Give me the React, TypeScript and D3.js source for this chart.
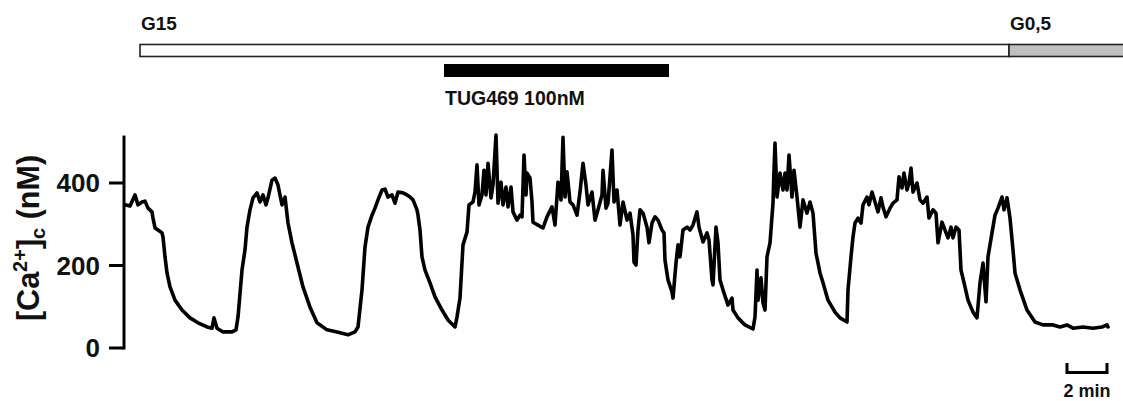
import React from "react";
import * as d3 from "d3";

// Recording time (s) and cytosolic Ca2+ (nM)
const traceTime = [
  0, 15, 30, 39, 51, 60, 69, 81, 84, 90, 99, 111, 114, 120, 126, 135, 150, 171, 195, 219,
  246, 261, 267, 276, 294, 321, 333, 339, 351, 360, 366, 375, 384, 396, 405, 414, 423, 429, 441, 450,
  459, 471, 480, 489, 501, 516, 534, 555, 576, 606, 636, 669, 690, 699,
  711, 720, 729, 741, 750, 759, 771, 780, 789, 801,
  810, 819, 834, 846, 855, 864, 876, 879, 885, 891,
  900, 915, 930, 951, 969, 990, 996, 1005, 1014, 1026,
  1032, 1044, 1050, 1056, 1062, 1071, 1077, 1083, 1089, 1098,
  1104, 1113, 1119, 1128, 1134, 1143, 1149, 1158, 1164, 1176,
  1185, 1191, 1197, 1203, 1206, 1215, 1221, 1224, 1239, 1254,
  1266, 1281, 1290, 1299, 1308, 1314, 1320, 1326, 1335, 1344,
  1356, 1365, 1374, 1383, 1389, 1401, 1410, 1419, 1431, 1434,
  1443, 1449, 1461, 1467, 1476, 1485, 1494, 1506, 1515, 1524,
  1527, 1533, 1539, 1545, 1554, 1566, 1572, 1581, 1590, 1599,
  1611, 1617, 1620, 1629, 1641, 1644, 1653, 1659, 1665, 1674,
  1686, 1695, 1704, 1716, 1722, 1734, 1746, 1752, 1761, 1764,
  1773, 1779, 1785, 1794, 1809, 1821, 1824, 1839, 1860, 1884,
  1890, 1896, 1899, 1908, 1914, 1920, 1926, 1935, 1944, 1946,
  1950, 1956, 1965, 1974, 1980, 1986, 1992, 2001, 2007, 2016,
  2025, 2034, 2046, 2055, 2064, 2073, 2085, 2094, 2109, 2130,
  2145, 2166, 2169, 2178, 2184, 2190, 2199, 2208, 2214, 2226,
  2232, 2241, 2250, 2259, 2268, 2274, 2283, 2295, 2304, 2316,
  2322, 2331, 2337, 2346, 2352, 2358, 2364, 2376, 2385, 2394,
  2406, 2412, 2424, 2433, 2439, 2451, 2460, 2469, 2478, 2484,
  2493, 2502, 2508, 2520, 2529, 2544, 2556, 2565, 2574, 2583,
  2589, 2601, 2610, 2619, 2631, 2637, 2646, 2655, 2664, 2670,
  2685, 2706, 2730, 2754, 2784, 2805, 2826, 2844, 2874, 2904,
  2931, 2946, 2949,
];

const traceCa = [
  347, 344, 371, 347, 354, 356, 339, 330, 315, 291, 286, 279, 269, 221, 182, 148, 116, 92, 73, 61,
  51, 48, 73, 48, 39, 39, 44, 75, 189, 238, 293, 335, 364, 376, 354, 371, 347, 364, 407, 412,
  395, 347, 366, 303, 255, 206, 148, 99, 61, 44, 39, 32, 39, 51,
  141, 245, 293, 322, 339, 359, 383, 385, 366, 371,
  351, 378, 376, 371, 366, 359, 335, 322, 286, 221,
  189, 158, 124, 92, 68, 51, 75, 121, 250, 281,
  347, 354, 378, 444, 347, 371, 431, 371, 448, 364,
  395, 516, 351, 402, 347, 390, 342, 390, 330, 310,
  322, 318, 468, 371, 424, 412, 354, 305, 298, 291,
  318, 342, 298, 402, 359, 511, 366, 427, 354, 347,
  322, 378, 448, 395, 347, 378, 310, 335, 371, 431,
  339, 351, 480, 354, 383, 298, 354, 310, 327, 274,
  208, 201, 286, 335, 327, 293, 255, 303, 318, 310,
  286, 279, 213, 165, 136, 121, 206, 250, 221, 286,
  293, 286, 298, 330, 293, 257, 279, 262, 165, 153,
  293, 255, 165, 141, 104, 121, 92, 73, 56, 46,
  75, 189, 116, 170, 109, 92, 221, 255, 351, 407,
  497, 366, 424, 383, 424, 383, 468, 366, 431, 366,
  293, 359, 327, 354, 327, 230, 182, 158, 116, 87,
  73, 63, 141, 221, 269, 303, 315, 303, 347, 366,
  347, 378, 354, 330, 364, 342, 318, 339, 351, 359,
  415, 388, 424, 383, 400, 436, 378, 400, 359, 351,
  366, 315, 335, 327, 255, 305, 286, 267, 293, 267,
  293, 286, 189, 148, 116, 87, 73, 158, 206, 112,
  221, 279, 322, 339, 366, 335, 364, 315, 238, 182,
  141, 92, 63, 56, 56, 51, 56, 48, 51, 48,
  51, 56, 51,
];

const yTicks = [0, 200, 400];
const yAxisTop = 515;

// Glucose perfusion periods (s)
const glucoseLabels = ["G15", "G0,5"];
const glucoseStart = [45, 2652];
const glucoseEnd = [2652, 3050];
const glucoseFill = ["#ffffff", "#c0c0c0"];

// Agonist application (s)
const drugLabel = "TUG469 100nM";
const drugStart = 957;
const drugEnd = 1632;

// Time scale bar (s)
const scaleBarStart = 2826;
const scaleBarLength = 120;
const scaleBarLabel = "2 min";

const W = 1123;
const H = 401;

export default function App() {
  const x = d3.scaleLinear().domain([0, 2949]).range([125, 1108]);
  const y = d3.scaleLinear().domain([0, 400]).range([348, 183]);

  const points = traceTime.map((t, i) => [t, traceCa[i]] as [number, number]);
  const line = d3
    .line<[number, number]>()
    .x((d) => x(d[0]))
    .y((d) => y(d[1]));

  const font = "'Liberation Sans', Arial, sans-serif";
  const axisX = x(0) - 1;

  return (
    <svg
      width={W}
      height={H}
      style={{ position: "absolute", left: 0, top: 0, background: "#fff" }}
      fontFamily={font}
    >
      {/* glucose protocol bar */}
      {glucoseLabels.map((lab, i) => (
        <g key={lab}>
          <rect
            x={x(glucoseStart[i])}
            y={44.5}
            width={x(glucoseEnd[i]) - x(glucoseStart[i])}
            height={12}
            fill={glucoseFill[i]}
            stroke="#222"
            strokeWidth={1.6}
          />
          <text x={x(glucoseStart[i]) + 1} y={29.5} fontSize={19} fontWeight="bold" fill="#111">
            {lab}
          </text>
        </g>
      ))}

      {/* drug application bar */}
      <rect x={x(drugStart)} y={64} width={x(drugEnd) - x(drugStart)} height={13} fill="#000" />
      <text x={x(drugStart) + 1} y={105} fontSize={19.5} fontWeight="bold" fill="#111">
        {drugLabel}
      </text>

      {/* y axis */}
      <line x1={axisX} x2={axisX} y1={y(yAxisTop)} y2={y(0) + 1.5} stroke="#000" strokeWidth={3} />
      {yTicks.map((t) => (
        <g key={t}>
          <line x1={axisX - 15} x2={axisX} y1={y(t)} y2={y(t)} stroke="#000" strokeWidth={3} />
          <text
            x={axisX - 24}
            y={y(t)}
            dy="0.35em"
            textAnchor="end"
            fontSize={26}
            fontWeight="bold"
            fill="#111"
          >
            {t}
          </text>
        </g>
      ))}
      <text
        transform={`translate(39,238) rotate(-90)`}
        textAnchor="middle"
        fontSize={30.5}
        fontWeight="bold"
        fill="#111"
      >
        [Ca<tspan dy={-12} fontSize={20}>2+</tspan>
        <tspan dy={12}>]</tspan>
        <tspan dy={6} fontSize={20}>c</tspan>
        <tspan dy={-6}> (nM)</tspan>
      </text>

      {/* calcium trace */}
      <path
        d={line(points) ?? ""}
        fill="none"
        stroke="#000"
        strokeWidth={3.6}
        strokeLinejoin="round"
        strokeLinecap="round"
      />

      {/* time scale bar */}
      <path
        d={`M${x(scaleBarStart)},363 V372.5 H${x(scaleBarStart + scaleBarLength)} V363`}
        fill="none"
        stroke="#000"
        strokeWidth={3}
      />
      <text
        x={x(scaleBarStart + scaleBarLength / 2)}
        y={397}
        textAnchor="middle"
        fontSize={18}
        fontWeight="bold"
        fill="#111"
      >
        {scaleBarLabel}
      </text>
    </svg>
  );
}
